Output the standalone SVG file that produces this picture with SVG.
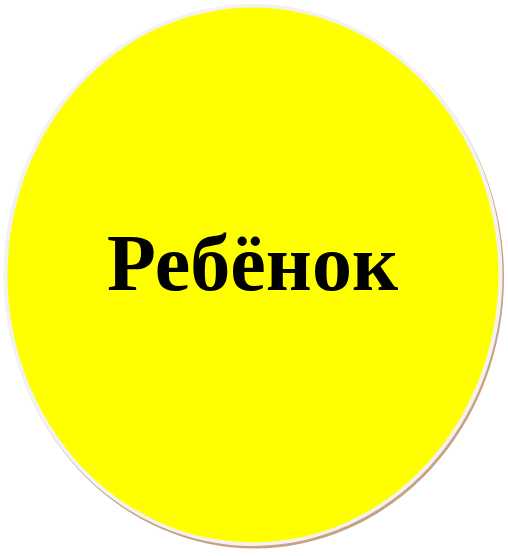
<svg xmlns="http://www.w3.org/2000/svg" width="508" height="556" viewBox="0 0 508 556">
<style>
.lbl{font-family:"Liberation Serif","Times New Roman",serif;font-weight:bold;font-size:80px;fill:#000}
</style>
<rect width="508" height="556" fill="#fff"/>
<g id="node-child">
<ellipse cx="254.5" cy="277.5" rx="249.5" ry="271" fill="#c8a083"/>
<ellipse cx="253" cy="275" rx="249.5" ry="271" fill="#f2f2f2"/>
<ellipse cx="253" cy="275" rx="245.5" ry="267.5" fill="#ffff00"/>
<text class="lbl" x="252.5" y="290" text-anchor="middle" textLength="291" lengthAdjust="spacingAndGlyphs">Ребёнок</text>
</g>
</svg>
